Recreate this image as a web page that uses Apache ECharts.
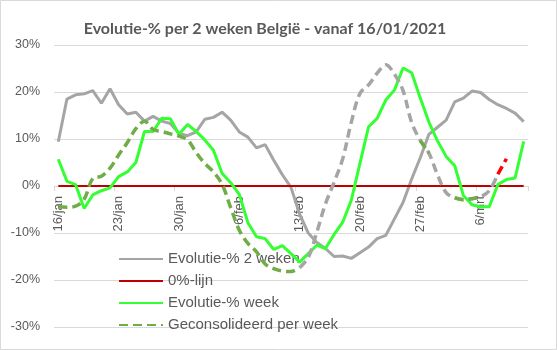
<!DOCTYPE html>
<html>
<head>
<meta charset="utf-8">
<script src="https://cdn.jsdelivr.net/npm/echarts@6/dist/echarts.min.js"></script>
<style>
  html, body { margin: 0; padding: 0; background: #fff; }
  #grafiek { width: 557px; height: 350px; }
</style>
</head>
<body>
<div id="grafiek"></div>
<script>
// Dagen van 16 januari t/m 11 maart 2021
const dagen = [
  '16/jan','17/jan','18/jan','19/jan','20/jan','21/jan','22/jan','23/jan','24/jan','25/jan',
  '26/jan','27/jan','28/jan','29/jan','30/jan','31/jan',
  '1/feb','2/feb','3/feb','4/feb','5/feb','6/feb','7/feb','8/feb','9/feb','10/feb',
  '11/feb','12/feb','13/feb','14/feb','15/feb','16/feb','17/feb','18/feb','19/feb','20/feb',
  '21/feb','22/feb','23/feb','24/feb','25/feb','26/feb','27/feb','28/feb',
  '1/mrt','2/mrt','3/mrt','4/mrt','5/mrt','6/mrt','7/mrt','8/mrt','9/mrt','10/mrt','11/mrt'
];

// Evolutie in % over 2 weken
const evolutie2Weken = [
  9.4, 18.5, 19.4, 19.6, 20.3, 17.6, 20.7, 17.3, 15.3, 15.7,
  13.8, 14.8, 13.8, 13.3, 11.2, 10.7, 11.5, 14.2, 14.6, 15.7,
  14.0, 11.5, 10.4, 8.1, 8.8, 5.5, 2.4, -0.3, -6.0, -10.0,
  -12.0, -13.3, -15.0, -14.9, -15.4, -14.2, -13.0, -11.2, -10.5, -7.0,
  -3.5, 1.5, 6.0, 11.0, 12.5, 14.0, 17.9, 18.7, 20.2, 19.9,
  18.4, 17.3, 16.5, 15.5, 13.7
];

// Referentielijn op 0%
const nulLijn = [
  0, 0, 0, 0, 0, 0, 0, 0, 0, 0,
  0, 0, 0, 0, 0, 0, 0, 0, 0, 0,
  0, 0, 0, 0, 0, 0, 0, 0, 0, 0,
  0, 0, 0, 0, 0, 0, 0, 0, 0, 0,
  0, 0, 0, 0, 0, 0, 0, 0, 0, 0,
  0, 0, 0, 0, 0
];

// Evolutie in % per week
const evolutieWeek = [
  5.7, 1.0, 0.3, -4.8, -1.9, -1.0, -0.4, 2.0, 3.0, 5.0,
  11.6, 11.6, 14.4, 14.3, 11.0, 13.1, 11.6, 9.8, 7.6, 2.7,
  0.7, -1.8, -7.8, -10.8, -11.2, -13.5, -12.7, -14.4, -16.2, -14.4,
  -12.6, -13.3, -10.3, -7.7, -3.0, 4.8, 12.6, 14.4, 18.3, 20.4,
  25.1, 24.1, 18.7, 13.6, 9.6, 6.3, 4.3, -2.0, -4.0, -4.4,
  -4.4, 0.3, 1.4, 1.7, 9.5
];

// Evolutie per week op basis van geconsolideerde cijfers
const geconsolideerdWeek = [
  -4.4, -4.5, -4.3, -2.8, 1.6, 2.1, 3.8, 6.6, 9.2, 12.2,
  13.8, 12.0, 11.6, 11.1, 10.6, 9.8, 7.1, 4.8, 3.0, 0.4,
  -4.6, -9.4, -12.2, -14.0, -16.6, -17.6, -18.1, -18.2, -17.4, -15.2,
  -9.8, -3.8, 0.8, 5.8, 13.6, 19.7, 21.5, 24.0, 25.8, 23.8,
  20.3, 13.5, 9.7, 7.0, 2.4, -1.4, -2.5, -2.9, -2.7, -2.3,
  -1.0, 2.5, 5.8, null, null
];

// Indexbereiken waarin de gestippelde lijn een bepaalde kleur krijgt
const bereikGeconsolideerd = [[0, 28], [42, 43], [46, 49]];
const bereikVoorlopig = [[28, 51]];
const bereikLaatste = [[51, 52]];

function binnen(waarden, bereiken) {
  return waarden.map((v, i) =>
    bereiken.some(([van, tot]) => i >= van && i <= tot) ? v : null
  );
}

const lettertype = 'Liberation Sans';
const tekstKleur = '#595959';

// Plotgebied
const rasterBoven = 45;
const rasterOnder = 23;
const hoogte = 350;
// De y-as loopt symmetrisch van -30% tot 30%: de nullijn ligt halverwege het plotgebied
const asVerschuiving = -(hoogte - rasterBoven - rasterOnder) / 2;

const grafiek = echarts.init(document.getElementById('grafiek'), null, { renderer: 'canvas' });

grafiek.setOption({
  animation: false,
  backgroundColor: '#ffffff',
  title: {
    text: 'Evolutie-% per 2 weken België - vanaf 16/01/2021',
    left: 260,
    top: 16,
    textAlign: 'center',
    textStyle: { fontFamily: 'Lato', fontSize: 16, fontWeight: 'bold', color: tekstKleur }
  },
  graphic: [{
    type: 'rect',
    silent: true,
    shape: { x: 0.5, y: 0.5, width: 556, height: 349 },
    style: { fill: null, stroke: '#d9d9d9', lineWidth: 1 }
  }],
  legend: {
    data: ['Evolutie-% 2 weken', '0%-lijn', 'Evolutie-% week', 'Geconsolideerd per week'],
    orient: 'vertical',
    left: 118,
    top: 251,
    padding: 0,
    itemWidth: 44,
    itemHeight: 14,
    itemGap: 6,
    selectedMode: false,
    itemStyle: { opacity: 0 },
    textStyle: { fontFamily: lettertype, fontSize: 15, color: tekstKleur, lineHeight: 16 }
  },
  grid: { left: 54, right: 29, top: rasterBoven, bottom: rasterOnder, containLabel: false, outerBoundsMode: 'none' },
  xAxis: {
    type: 'category',
    data: dagen,
    boundaryGap: true,
    position: 'bottom',
    offset: asVerschuiving,
    axisLine: { onZero: false, lineStyle: { color: '#d9d9d9', width: 1 } },
    axisTick: { show: true, interval: 6, length: 5, lineStyle: { color: '#d9d9d9' } },
    axisLabel: {
      interval: 6,
      rotate: 90,
      margin: 10,
      color: tekstKleur,
      fontFamily: lettertype,
      fontSize: 13
    },
    splitLine: { show: false }
  },
  yAxis: {
    type: 'value',
    min: -30,
    max: 30,
    interval: 10,
    axisLine: { show: false },
    axisTick: { show: false },
    axisLabel: {
      formatter: '{value}%',
      margin: 14,
      color: tekstKleur,
      fontFamily: lettertype,
      fontSize: 12.5
    },
    splitLine: { lineStyle: { color: '#d9d9d9', width: 1 } }
  },
  series: [
    {
      name: 'Evolutie-% 2 weken',
      type: 'line',
      data: evolutie2Weken,
      symbol: 'none',
      lineStyle: { color: '#a5a5a5', width: 3 },
      itemStyle: { color: '#a5a5a5' },
      z: 2
    },
    {
      name: '0%-lijn',
      type: 'line',
      data: nulLijn,
      symbol: 'none',
      lineStyle: { color: '#c00000', width: 2 },
      itemStyle: { color: '#c00000' },
      z: 3
    },
    {
      name: 'Evolutie-% week',
      type: 'line',
      data: evolutieWeek,
      symbol: 'none',
      lineStyle: { color: '#33ff33', width: 3 },
      itemStyle: { color: '#33ff33' },
      z: 4
    },
    {
      name: 'Voorlopig per week',
      type: 'line',
      data: binnen(geconsolideerdWeek, bereikVoorlopig),
      symbol: 'none',
      smooth: 0.35,
      lineStyle: { color: '#a5a5a5', width: 3.5, type: [9, 5] },
      itemStyle: { color: '#a5a5a5' },
      z: 5
    },
    {
      name: 'Geconsolideerd per week',
      type: 'line',
      data: binnen(geconsolideerdWeek, bereikGeconsolideerd),
      symbol: 'none',
      smooth: 0.35,
      lineStyle: { color: '#70ad47', width: 3.5, type: [9, 5] },
      itemStyle: { color: '#70ad47' },
      z: 6
    },
    {
      name: 'Laatste week',
      type: 'line',
      data: binnen(geconsolideerdWeek, bereikLaatste),
      symbol: 'none',
      lineStyle: { color: '#ff0000', width: 3.5, type: [9, 5] },
      itemStyle: { color: '#ff0000' },
      z: 7
    }
  ]
});
</script>
</body>
</html>
